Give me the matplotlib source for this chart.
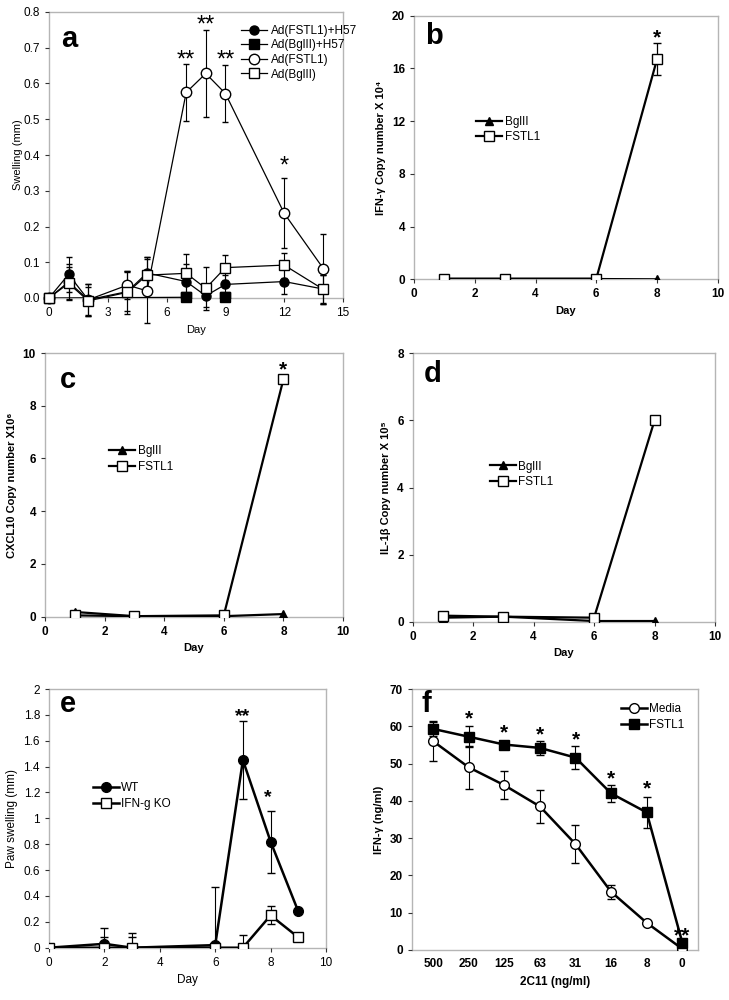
import matplotlib
matplotlib.use("Agg")
import matplotlib.pyplot as plt
import numpy as np

plt.rcParams['font.family'] = ['Liberation Sans', 'DejaVu Sans']

# ---------------- Data ----------------
# Panel a
a_days = [0, 1, 2, 4, 5, 7, 8, 9, 12, 14]
a_fstl1_h57 = [0, 0.066, -0.005, 0.018, 0.070, 0.046, 0.006, 0.038, 0.046, 0.025]
a_fstl1_h57_err = [0, 0.05, 0.045, 0.055, 0.045, 0.05, 0.03, 0.025, 0.036, 0.04]
a_bgl_h57_days = [0, 7, 8, 9, 12, 14]
a_bgl_h57 = [0, 0.002, -0.05, 0.004, -0.06, -0.06]
a_fstl1 = [0, 0.045, -0.005, 0.036, 0.020, 0.575, 0.628, 0.572, 0.237, 0.082]
a_fstl1_err = [0, 0.05, 0.045, 0.04, 0.09, 0.08, 0.122, 0.08, 0.098, 0.098]
a_bgl = [0, 0.041, -0.008, 0.016, 0.064, 0.069, 0.027, 0.085, 0.092, 0.024]
a_bgl_err = [0, 0.045, 0.04, 0.06, 0.05, 0.055, 0.06, 0.035, 0.035, 0.04]
a_star_x = [7, 8, 9, 12]
a_star_y = [0.68, 0.777, 0.68, 0.381]
a_star_txt = ['**', '**', '**', '*']

# Panel b
bcd_days = [1, 3, 6, 8]
b_bgl = [0.02, 0.02, 0.02, 0.0]
b_fstl1 = [0.05, 0.05, 0.05, 16.7]
b_fstl1_err = [0, 0, 0, 1.2]

# Panel c
c_bgl = [0.18, 0.02, 0.02, 0.1]
c_fstl1 = [0.05, 0.02, 0.05, 9.0]

# Panel d
d_bgl = [0.12, 0.15, 0.02, 0.02]
d_fstl1 = [0.18, 0.15, 0.12, 6.0]

# Panel e
e_days = [0, 2, 3, 6, 7, 8, 9]
e_wt = [0, 0.03, 0.0, 0.02, 1.45, 0.82, 0.28]
e_wt_err = [0, 0.12, 0.08, 0.45, 0.30, 0.24, 0]
e_ko = [0, 0, 0, 0, 0, 0.25, 0.08]
e_ko_err = [0, 0.08, 0.11, 0, 0.10, 0.07, 0]

# Panel f
f_conc = ['500', '250', '125', '63', '31', '16', '8', '0']
f_media = [56.0, 49.0, 44.2, 38.5, 28.4, 15.6, 7.3, 0.3]
f_media_err = [5.2, 5.8, 3.8, 4.5, 5.2, 1.8, 0.5, 0.3]
f_fstl1 = [59.3, 57.2, 55.1, 54.2, 51.6, 42.0, 36.9, 2.0]
f_fstl1_err = [2.0, 2.8, 1.0, 1.8, 3.0, 2.2, 4.2, 0.5]
f_star_txt = ['*', '*', '*', '*', '*', '*', '**']
f_star_idx = [1, 2, 3, 4, 5, 6, 7]
f_star_y = [63.3, 59.5, 59.0, 57.6, 47.0, 44.5, 5.0]

# ---------------- Figure ----------------
fig = plt.figure(figsize=(7.29, 10), dpi=100)
SPINE = '#b5b5b5'


def style(ax, bold=False, fs=8.5):
    for s in ax.spines.values():
        s.set_color(SPINE)
        s.set_linewidth(1.0)
        s.set_zorder(0.5)
    ax.tick_params(direction='out', length=3, width=0.8, color='#333333',
                   labelsize=fs, top=False, right=False)
    if bold:
        for lab in ax.get_xticklabels() + ax.get_yticklabels():
            lab.set_fontweight('bold')


def star(ax, x, y, t, fs, bold=False):
    # glyph sits high in the text box; shift so the glyph centre lands on y
    ax.annotate(t, (x, y), xytext=(0, -fs * 0.22), textcoords='offset points',
                ha='center', va='center', fontsize=fs,
                fontweight='bold' if bold else 'normal')


# Panel a
ax = fig.add_axes([0.0672, 0.702, 0.4033, 0.286])
lw = 0.9
ekw = dict(capsize=2.5, elinewidth=0.8, clip_on=False)
c1 = ax.errorbar(a_days, a_fstl1_h57, yerr=a_fstl1_h57_err, color='black', lw=lw,
                 marker='o', ms=6.5, mfc='black', mec='black', **ekw)
l2, = ax.plot(a_bgl_h57_days, a_bgl_h57, color='black', lw=lw, marker='s', ms=6.5,
              mfc='black', mec='black')
bx = np.array(a_bgl_h57_days)
by = np.array(a_bgl_h57)
vis = by >= 0
ax.plot(bx[vis], by[vis], ls='none', marker='s', ms=6.5, mfc='black', mec='black',
        clip_on=False)
c3 = ax.errorbar(a_days, a_fstl1, yerr=a_fstl1_err, color='black', lw=lw,
                 marker='o', ms=7.5, mfc='white', mec='black', **ekw)
c4 = ax.errorbar(a_days, a_bgl, yerr=a_bgl_err, color='black', lw=lw,
                 marker='s', ms=6.5, mfc='white', mec='black', **ekw)
for x, y, t in zip(a_star_x, a_star_y, a_star_txt):
    star(ax, x, y, t, 17)
ax.set_xlim(0, 15)
ax.set_ylim(0, 0.8)
ax.set_xticks(range(0, 16, 3))
ax.set_yticks(np.arange(0, 0.81, 0.1))
ax.set_yticklabels([f'{v:.1f}' for v in np.arange(0, 0.81, 0.1)])
ax.set_xlabel('Day', fontsize=8)
ax.set_ylabel('Swelling (mm)', fontsize=8, labelpad=0)
ax.text(0.04, 0.955, 'a', transform=ax.transAxes, fontsize=21, fontweight='bold',
        ha='left', va='top')
ax.legend([c1[0], l2, c3[0], c4[0]],
          ['Ad(FSTL1)+H57', 'Ad(BglII)+H57', 'Ad(FSTL1)', 'Ad(BglII)'],
          loc='upper left', bbox_to_anchor=(0.63, 0.98), frameon=False,
          fontsize=8.5, handlelength=2.2, borderaxespad=0.2, labelspacing=0.22,
          handletextpad=0.3)
style(ax)

lkw = dict(frameon=False, fontsize=8.5, handlelength=2.2, handletextpad=0.2,
           labelspacing=0.3)

# Panel b
ax = fig.add_axes([0.568, 0.7207, 0.4166, 0.2636])
lb1, = ax.plot(bcd_days, b_bgl, color='black', lw=1.6, marker='^', ms=6, mfc='black')
cb2 = ax.errorbar(bcd_days, b_fstl1, yerr=b_fstl1_err, color='black', lw=1.6,
                  marker='s', ms=7, mfc='white', mec='black', capsize=3,
                  elinewidth=0.9)
star(ax, 8, 18.7, '*', 15, bold=True)
ax.set_xlim(0, 10)
ax.set_ylim(0, 20)
ax.set_xticks(range(0, 11, 2))
ax.set_yticks(range(0, 21, 4))
ax.set_xlabel('Day', fontsize=8, fontweight='bold')
ax.set_ylabel('IFN-γ Copy number X 10⁴', fontsize=8, fontweight='bold')
ax.text(0.035, 0.975, 'b', transform=ax.transAxes, fontsize=21, fontweight='bold',
        ha='left', va='top')
ax.legend([lb1, cb2[0]], ['BglII', 'FSTL1'], loc='upper left',
          bbox_to_anchor=(0.17, 0.66), **lkw)
style(ax, bold=True)

# Panel c
ax = fig.add_axes([0.0617, 0.3833, 0.4088, 0.2637])
ax.plot(bcd_days, c_bgl, color='black', lw=1.6, marker='^', ms=6, mfc='black',
        label='BglII')
ax.plot(bcd_days, c_fstl1, color='black', lw=1.6, marker='s', ms=7, mfc='white',
        mec='black', label='FSTL1')
star(ax, 8, 9.55, '*', 15, bold=True)
ax.set_xlim(0, 10)
ax.set_ylim(0, 10)
ax.set_xticks(range(0, 11, 2))
ax.set_yticks(range(0, 11, 2))
ax.set_xlabel('Day', fontsize=8, fontweight='bold')
ax.set_ylabel('CXCL10 Copy number X10⁶', fontsize=8, fontweight='bold')
ax.text(0.05, 0.95, 'c', transform=ax.transAxes, fontsize=21, fontweight='bold',
        ha='left', va='top')
ax.legend(loc='upper left', bbox_to_anchor=(0.18, 0.69), **lkw)
style(ax, bold=True)

# Panel d
ax = fig.add_axes([0.5661, 0.3783, 0.4147, 0.2684])
ax.plot(bcd_days, d_bgl, color='black', lw=1.6, marker='^', ms=6, mfc='black',
        label='BglII')
ax.plot(bcd_days, d_fstl1, color='black', lw=1.6, marker='s', ms=7, mfc='white',
        mec='black', label='FSTL1')
ax.set_xlim(0, 10)
ax.set_ylim(0, 8)
ax.set_xticks(range(0, 11, 2))
ax.set_yticks(range(0, 9, 2))
ax.set_xlabel('Day', fontsize=8, fontweight='bold')
ax.set_ylabel('IL-1β Copy number X 10⁵', fontsize=8, fontweight='bold')
ax.text(0.035, 0.975, 'd', transform=ax.transAxes, fontsize=21, fontweight='bold',
        ha='left', va='top')
ax.legend(loc='upper left', bbox_to_anchor=(0.22, 0.64), **lkw)
style(ax, bold=True)

# Panel e
ax = fig.add_axes([0.0672, 0.0523, 0.380, 0.2587])
ce1 = ax.errorbar(e_days, e_wt, yerr=e_wt_err, color='black', lw=1.8, marker='o',
                  ms=7, mfc='black', capsize=3, elinewidth=0.8)
ce2 = ax.errorbar(e_days, e_ko, yerr=e_ko_err, color='black', lw=1.8, marker='s',
                  ms=7, mfc='white', mec='black', capsize=3, elinewidth=0.8)
star(ax, 7, 1.82, '**', 14, bold=True)
star(ax, 7.9, 1.19, '*', 14, bold=True)
ax.set_xlim(0, 10)
ax.set_ylim(0, 2)
ax.set_xticks(range(0, 11, 2))
yt = np.round(np.arange(0, 2.01, 0.2), 1)
ax.set_yticks(yt)
ax.set_yticklabels([f'{v:g}' for v in yt])
ax.set_xlabel('Day', fontsize=8.5)
ax.set_ylabel('Paw swelling (mm)', fontsize=8.5)
ax.text(0.04, 0.995, 'e', transform=ax.transAxes, fontsize=21, fontweight='bold',
        ha='left', va='top')
ax.legend([ce1[0], ce2[0]], ['WT', 'IFN-g KO'], loc='upper left',
          bbox_to_anchor=(0.12, 0.68), **lkw)
style(ax)

# Panel f
ax = fig.add_axes([0.5648, 0.05, 0.3931, 0.261])
xf = np.arange(len(f_conc))
cf1 = ax.errorbar(xf, f_media, yerr=f_media_err, color='black', lw=1.8, marker='o',
                  ms=7, mfc='white', mec='black', capsize=3, elinewidth=0.8)
cf2 = ax.errorbar(xf, f_fstl1, yerr=f_fstl1_err, color='black', lw=1.8, marker='s',
                  ms=7, mfc='black', mec='black', capsize=3, elinewidth=0.8)
for i, y, t in zip(f_star_idx, f_star_y, f_star_txt):
    star(ax, xf[i], y, t, 15, bold=True)
ax.set_xlim(-0.6, 7.45)
ax.set_ylim(0, 70)
ax.set_xticks(xf)
ax.set_xticklabels(f_conc)
ax.set_yticks(range(0, 71, 10))
ax.set_xlabel('2C11 (ng/ml)', fontsize=8.5, fontweight='bold')
ax.set_ylabel('IFN-γ (ng/ml)', fontsize=8, fontweight='bold')
ax.text(0.035, 0.995, 'f', transform=ax.transAxes, fontsize=21, fontweight='bold',
        ha='left', va='top')
ax.legend([cf1[0], cf2[0]], ['Media', 'FSTL1'], loc='upper right',
          borderaxespad=0.8, **lkw)
style(ax, bold=True)
ax.tick_params(axis='x', length=0, pad=6)

fig.savefig('out.png', dpi=100)
